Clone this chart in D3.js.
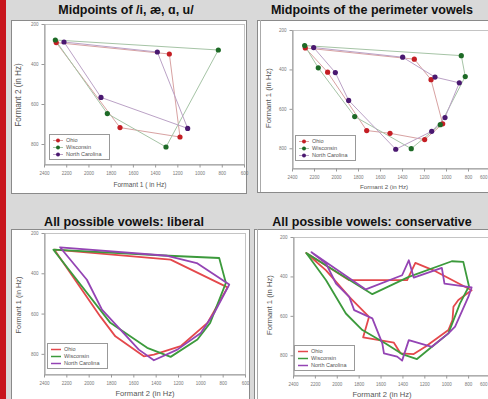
<!DOCTYPE html>
<html>
<head>
<meta charset="utf-8">
<script src="https://cdn.jsdelivr.net/npm/d3@7"></script>
<style>
  body { margin: 0; background: #d9d9d9; }
  svg { display: block; font-family: "Liberation Sans", Arial, sans-serif; }
</style>
</head>
<body>
<div id="chart"></div>
<script>
// tick labels
const f2Ticks = [2400, 2200, 2000, 1800, 1600, 1400, 1200, 1000, 800, 600];
const f1Ticks = [200, 400, 600, 800];
const dialects = ["Ohio", "Wisconsin", "North Carolina"];
const titles = ["Midpoints of /i, æ, ɑ, u/", "Midpoints of the perimeter vowels",
                "All possible vowels: liberal", "All possible vowels: conservative"];

// [F2, F1] pairs, Hz
const ohioCorner = [[2290, 293], [1272, 350], [1176, 765], [1716, 718]];
const wiscCorner = [[2298, 280], [831, 330], [1302, 815], [1830, 648]];
const ncCorner   = [[2220, 290], [1380, 340], [1107, 722], [1887, 567]];

const ohioPerim = [[2279, 291], [1288, 348], [1136, 452], [1030, 676], [1194, 756], [1509, 724], [1721, 710], [2076, 414]];
const wiscPerim = [[2285, 279], [861, 330], [825, 436], [1052, 680], [1316, 802], [1830, 639], [2161, 392]];
const ncPerim   = [[2203, 289], [1394, 338], [1100, 439], [879, 468], [1009, 644], [1130, 714], [1457, 805], [1885, 557], [2006, 416]];

const ohioLib = [[2307, 283], [1266, 332], [756, 470], [936, 646], [1176, 762], [1416, 804], [1506, 812], [1761, 713], [1896, 614]];
const wiscLib = [[2316, 283], [1281, 313], [831, 324], [771, 448], [912, 646], [1026, 729], [1266, 815], [1476, 770], [1806, 646]];
const ncLib   = [[2256, 271], [1296, 313], [1032, 349], [741, 456], [876, 597], [996, 696], [1206, 779], [1416, 832], [1551, 779], [1881, 580], [2016, 432]];

const ohioCons = [[2279, 281], [1886, 419], [1357, 419], [1282, 331], [1116, 369], [768, 470], [889, 520], [934, 554], [943, 622], [980, 672],
                  [1191, 757], [1297, 794], [1418, 790], [1478, 736], [1759, 709], [1705, 605], [1886, 504], [2098, 369]];
const wiscCons = [[2279, 281], [1675, 490], [1342, 402], [949, 323], [844, 326], [792, 450], [874, 537], [980, 689], [1131, 757],
                  [1267, 819], [1403, 794], [1554, 740], [1766, 672], [1917, 588], [2098, 419]];
const ncCons   = [[2231, 277], [1735, 466], [1403, 394], [1342, 318], [1297, 406], [1040, 357], [1016, 436], [768, 456], [798, 504],
                  [919, 655], [980, 689], [1131, 757], [1342, 723], [1403, 827], [1448, 807], [1569, 790], [1584, 740], [1675, 613],
                  [1841, 571], [1886, 504], [2007, 436], [2098, 335]];

const markColor = ["#c41e24", "#1d6a26", "#4a1870"];
const thinLine = ["#d8a2a2", "#a6c4a6", "#bba2c6"];
const thickLine = ["#e4484c", "#3c9a3c", "#9444b4"];

const W = 488, H = 399;
const svg = d3.select("#chart").append("svg").attr("width", W).attr("height", H);

svg.append("rect").attr("width", W).attr("height", H).attr("fill", "#d9d9d9");
svg.append("rect").attr("width", 6).attr("height", H).attr("fill", "#c8141c");

var panels = [
  { box: [11, 20, 235, 173], plot: [44, 244, 24, 164], title: titles[0], tx: 126, ty: 14,
    xLab: "Formant 1 ( in Hz)", yLab: "Formant 2 (in Hz)", xl: [140, 187], yl: [21, 95], fs: [6.6, 8.2], leg: [49, 134],
    series: [ohioCorner, wiscCorner, ncCorner], points: true },
  { box: [257, 20, 233, 172], plot: [292, 490, 30, 168], title: titles[1], tx: 372, ty: 14,
    xLab: "Formant 2 (in Hz)", yLab: "Formant 1 (in Hz)", xl: [384, 189], yl: [271, 98], fs: [6.2, 7.7], leg: [295, 135],
    series: [ohioPerim, wiscPerim, ncPerim], points: true, dbl: true },
  { box: [11, 229, 238, 175], plot: [44, 245, 233, 374], title: titles[2], tx: 124, ty: 226,
    xLab: "Formant 2 (in Hz)", yLab: "Formant 1 (in Hz)", xl: [145, 396], yl: [21, 305], fs: [7.6, 7.3], leg: [47, 343],
    series: [ohioLib, wiscLib, ncLib], points: false },
  { box: [254, 229, 240, 175], plot: [293, 490, 237, 375], title: titles[3], tx: 372, ty: 226,
    xLab: "Formant 2 (in Hz)", yLab: "Formant 1 (in Hz)", xl: [382, 397], yl: [272, 305], fs: [7.6, 7.7], leg: [294, 345],
    series: [ohioCons, wiscCons, ncCons], points: false, dbl: true }
];

panels.forEach(function (p) {
  var g = svg.append("g");
  g.append("text").attr("x", p.tx).attr("y", p.ty).attr("text-anchor", "middle")
    .attr("font-size", "12.5px").attr("font-weight", "bold").attr("fill", "#111").text(p.title);

  g.append("rect").attr("x", p.box[0] + 0.5).attr("y", p.box[1] + 0.5)
    .attr("width", p.box[2]).attr("height", p.box[3])
    .attr("fill", "#fff").attr("stroke", "#8a8a8a");
  if (p.dbl) {
    g.append("line").attr("x1", p.box[0] + 3.5).attr("x2", p.box[0] + 3.5)
      .attr("y1", p.box[1]).attr("y2", p.box[1] + p.box[3])
      .attr("stroke", "#aaa");
  }

  var x = d3.scaleLinear().domain([2400, 600]).range([p.plot[0], p.plot[1]]);
  var y = d3.scaleLinear().domain([200, 900]).range([p.plot[2], p.plot[3]]);

  // frame
  g.append("rect").attr("x", p.plot[0] + 0.5).attr("y", p.plot[2] + 0.5)
    .attr("width", p.plot[1] - p.plot[0]).attr("height", p.plot[3] - p.plot[2])
    .attr("fill", "none").attr("stroke", "#c4c4c4");

  var xAxis = g.append("g").attr("transform", "translate(0," + (p.plot[3] + 0.5) + ")")
    .call(d3.axisBottom(x).tickValues(f2Ticks).tickFormat(d3.format("d")).tickSize(3).tickSizeOuter(0));
  var yAxis = g.append("g").attr("transform", "translate(" + (p.plot[0] + 0.5) + ",0)")
    .call(d3.axisLeft(y).tickValues(f1Ticks).tickFormat(d3.format("d")).tickSize(3).tickSizeOuter(0));
  [xAxis, yAxis].forEach(function (a) {
    a.select(".domain").attr("stroke", "#999");
    a.selectAll(".tick line").attr("stroke", "#999");
    a.selectAll(".tick text").attr("font-size", "4.5px").attr("fill", "#777")
      .attr("font-family", "Liberation Sans, Arial, sans-serif");
  });
  // keep the last label inside the window
  xAxis.selectAll(".tick text").attr("dy", "0.9em")
    .filter(function (d) { return x(d) + 4 > W; })
    .attr("text-anchor", "end").attr("dx", function (d) { return (W - 1 - x(d)) + "px"; });

  g.append("text").attr("x", p.xl[0]).attr("y", p.xl[1]).attr("text-anchor", "middle")
    .attr("font-size", p.fs[0] + "px").attr("fill", "#555").text(p.xLab);
  g.append("text").attr("transform", "translate(" + p.yl[0] + "," + p.yl[1] + ") rotate(-90)")
    .attr("text-anchor", "middle").attr("font-size", p.fs[1] + "px").attr("fill", "#555").text(p.yLab);

  var line = d3.line().x(function (d) { return x(d[0]); }).y(function (d) { return y(d[1]); })
    .curve(d3.curveLinearClosed);

  p.series.forEach(function (s, i) {
    g.append("path").attr("d", line(s)).attr("fill", "none")
      .attr("stroke", p.points ? thinLine[i] : thickLine[i])
      .attr("stroke-width", p.points ? 1 : 1.8)
      .attr("stroke-linejoin", "round");
  });
  if (p.points) {
    p.series.forEach(function (s, i) {
      g.selectAll(null).data(s).enter().append("circle")
        .attr("cx", function (d) { return x(d[0]); })
        .attr("cy", function (d) { return y(d[1]); })
        .attr("r", 2.6).attr("fill", markColor[i]);
    });
  }

  // legend
  var lg = g.append("g").attr("transform", "translate(" + p.leg[0] + "," + p.leg[1] + ")");
  lg.append("rect").attr("x", 0.5).attr("y", 0.5).attr("width", 60).attr("height", 25)
    .attr("fill", "#fff").attr("stroke", "#999");
  dialects.forEach(function (name, i) {
    var yy = 6.5 + i * 7;
    lg.append("line").attr("x1", 4).attr("x2", 14).attr("y1", yy).attr("y2", yy)
      .attr("stroke", p.points ? thinLine[i] : thickLine[i]).attr("stroke-width", p.points ? 1 : 1.5);
    if (p.points) lg.append("circle").attr("cx", 9).attr("cy", yy).attr("r", 2).attr("fill", markColor[i]);
    lg.append("text").attr("x", 17).attr("y", yy + 1.8).attr("font-size", "5.5px").attr("fill", "#555").text(name);
  });
});
</script>
</body>
</html>
